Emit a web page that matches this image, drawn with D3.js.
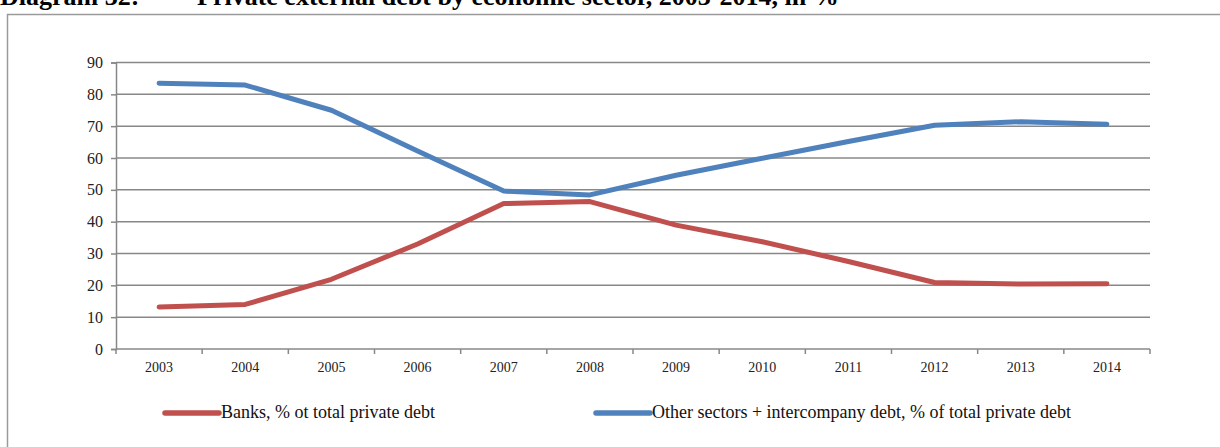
<!DOCTYPE html>
<html>
<head>
<meta charset="utf-8">
<script src="https://cdn.jsdelivr.net/npm/d3@7"></script>
<style>
  html, body { margin: 0; padding: 0; background: #fff; }
  svg { display: block; }
</style>
</head>
<body>
<script>
// Private external debt by economic sector, 2003-2014 (% of total private debt)
const years = ["2003","2004","2005","2006","2007","2008","2009","2010","2011","2012","2013","2014"];
const banks = [13.2, 14.0, 21.9, 33.0, 45.7, 46.3, 38.9, 33.7, 27.5, 20.9, 20.4, 20.5];
const otherSectors = [83.5, 82.9, 75.0, 62.2, 49.6, 48.4, 54.6, 59.9, 65.2, 70.3, 71.4, 70.6];
const yTicks = [0, 10, 20, 30, 40, 50, 60, 70, 80, 90];
const seriesNames = ["Banks, % ot total private debt", "Other sectors + intercompany debt, % of total private debt"];
const seriesColors = ["#C0504D", "#4F81BD"];

(function draw() {
  const W = 1220, H = 447;
  const svg = d3.select("body").append("svg").attr("width", W).attr("height", H);
  const font = "Liberation Serif, Times New Roman, serif";

  // caption above the framed chart
  svg.append("text")
    .attr("x", 0).attr("y", 5)
    .attr("font-family", font).attr("font-weight", "bold").attr("font-size", 26)
    .text("Diagram 32:");
  svg.append("text")
    .attr("x", 197).attr("y", 5)
    .attr("font-family", font).attr("font-weight", "bold").attr("font-size", 26)
    .text("Private external debt by economic sector, 2003-2014, in %");

  // chart frame
  svg.append("rect")
    .attr("x", 7.5).attr("y", 14.5).attr("width", 1240).attr("height", 460)
    .attr("fill", "none").attr("stroke", "#9a9a9a").attr("stroke-width", 1.5);

  const plotLeft = 116, plotRight = 1150, plotTop = 62.5, plotBottom = 349;
  const x = d3.scaleBand().domain(years).range([plotLeft, plotRight]).paddingInner(0).paddingOuter(0);
  const y = d3.scaleLinear().domain([0, 90]).range([plotBottom, plotTop]);
  const gridColor = "#888888";

  // horizontal gridlines
  svg.append("g").selectAll("line").data(yTicks.filter(d => d > 0)).join("line")
    .attr("x1", plotLeft).attr("x2", plotRight)
    .attr("y1", d => y(d)).attr("y2", d => y(d))
    .attr("stroke", gridColor).attr("stroke-width", 1.5);

  // y axis
  const yAxis = svg.append("g").attr("transform", `translate(${plotLeft},0)`)
    .call(d3.axisLeft(y).tickValues(yTicks).tickSize(5).tickPadding(8));
  yAxis.select(".domain").attr("stroke", gridColor).attr("stroke-width", 1.5);
  yAxis.selectAll(".tick line").attr("stroke", gridColor).attr("stroke-width", 1.5);
  yAxis.selectAll(".tick text")
    .attr("font-family", font).attr("font-size", 16).attr("fill", "#222");

  // x axis: category boundaries carry the ticks, labels sit in the middle of each band
  const xAxis = svg.append("g").attr("transform", `translate(0,${plotBottom})`);
  xAxis.append("line").attr("x1", plotLeft).attr("x2", plotRight)
    .attr("stroke", gridColor).attr("stroke-width", 1.5);
  const boundaries = years.map(d => x(d)).concat([x(years[years.length - 1]) + x.bandwidth()]);
  xAxis.selectAll("line.tk").data(boundaries).join("line").attr("class", "tk")
    .attr("x1", d => d).attr("x2", d => d).attr("y1", 0).attr("y2", 5)
    .attr("stroke", gridColor).attr("stroke-width", 1.5);
  xAxis.selectAll("text").data(years).join("text")
    .attr("x", d => x(d) + x.bandwidth() / 2).attr("y", 23)
    .attr("text-anchor", "middle")
    .attr("font-family", font).attr("font-size", 14).attr("fill", "#222")
    .text(d => d);

  // series lines
  const line = d3.line()
    .x((d, i) => x(years[i]) + x.bandwidth() / 2)
    .y(d => y(d));
  [banks, otherSectors].forEach((vals, k) => {
    svg.append("path").datum(vals)
      .attr("d", line)
      .attr("fill", "none").attr("stroke", seriesColors[k])
      .attr("stroke-width", 5).attr("stroke-linecap", "round").attr("stroke-linejoin", "round");
  });

  // legend
  const legendX = [165, 596];
  const legend = svg.append("g");
  seriesNames.forEach((name, k) => {
    legend.append("line")
      .attr("x1", legendX[k]).attr("x2", legendX[k] + 54)
      .attr("y1", 413).attr("y2", 413)
      .attr("stroke", seriesColors[k]).attr("stroke-width", 5.5).attr("stroke-linecap", "round");
    legend.append("text")
      .attr("x", legendX[k] + 56).attr("y", 418)
      .attr("font-family", font).attr("font-size", 18).attr("fill", "#111")
      .text(name);
  });
})();
</script>
</body>
</html>
